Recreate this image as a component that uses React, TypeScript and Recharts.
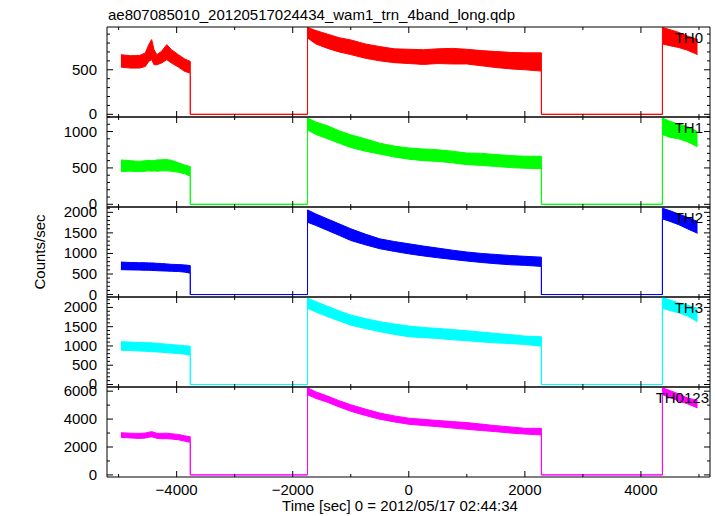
import { AreaChart, Area, XAxis, YAxis } from "recharts";

// time samples (sec) of the three data stretches; the gaps in between are drawn at zero
const segA = [-4960, -4800, -4640, -4540, -4480, -4430, -4390, -4340, -4260, -4170, -4090, -3970, -3860, -3765];
const segB = [-1745, -1600, -1400, -1200, -1000, -750, -500, -250, 0, 250, 500, 750, 1000, 1250, 1500, 1750, 2000, 2285];
const segC = [4370, 4500, 4650, 4800, 4975];

// lower / upper edge of the noisy band (segA, segB, segC in order)
const th0Lo = [530, 519, 519, 537, 594, 613, 557, 557, 576, 613, 576, 530, 481, 463, 857, 790, 740, 700, 670, 630, 600, 580, 570, 560, 570, 565, 565, 545, 525, 510, 500, 485, 790, 770, 750, 720, 670];
const th0Hi = [669, 658, 660, 689, 782, 839, 726, 669, 707, 782, 726, 669, 621, 594, 975, 940, 900, 860, 835, 790, 760, 735, 730, 725, 735, 740, 730, 715, 705, 695, 690, 690, 975, 950, 920, 880, 840];
const th1Lo = [450, 455, 450, 455, 460, 455, 460, 455, 460, 460, 455, 440, 420, 385, 1020, 960, 900, 840, 780, 730, 690, 650, 620, 600, 590, 570, 545, 535, 520, 505, 495, 490, 960, 920, 900, 860, 790];
const th1Hi = [610, 600, 590, 600, 605, 600, 600, 610, 612, 615, 605, 570, 540, 520, 1185, 1130, 1080, 1010, 955, 900, 840, 800, 775, 760, 750, 730, 705, 700, 685, 670, 660, 660, 1185, 1140, 1100, 1070, 1000];
const th2Lo = [605, 600, 595, 590, 590, 585, 585, 580, 575, 570, 565, 560, 545, 520, 1760, 1680, 1560, 1440, 1315, 1210, 1115, 1050, 990, 940, 895, 855, 815, 780, 750, 725, 710, 685, 1840, 1780, 1700, 1600, 1490];
const th2Hi = [790, 780, 775, 775, 770, 770, 765, 760, 755, 745, 735, 730, 720, 705, 2060, 1960, 1840, 1720, 1600, 1470, 1355, 1290, 1235, 1180, 1130, 1080, 1035, 1000, 975, 950, 930, 910, 2100, 2040, 1960, 1880, 1780];
const th3Lo = [890, 880, 870, 860, 855, 850, 850, 845, 835, 825, 815, 805, 785, 760, 1975, 1880, 1760, 1650, 1540, 1450, 1370, 1300, 1240, 1215, 1195, 1160, 1135, 1105, 1080, 1060, 1040, 995, 1975, 1920, 1860, 1775, 1630];
const th3Hi = [1110, 1100, 1090, 1085, 1085, 1080, 1075, 1070, 1060, 1045, 1035, 1020, 1005, 995, 2240, 2150, 2030, 1910, 1800, 1710, 1630, 1570, 1515, 1480, 1455, 1425, 1395, 1360, 1325, 1295, 1255, 1240, 2260, 2190, 2120, 2060, 1975];
const th0123Lo = [2690, 2650, 2615, 2640, 2700, 2730, 2680, 2620, 2590, 2600, 2570, 2520, 2420, 2340, 5750, 5480, 5200, 4870, 4560, 4260, 3990, 3800, 3630, 3540, 3460, 3360, 3270, 3180, 3100, 3000, 2930, 2860, 5750, 5550, 5300, 5100, 4800];
const th0123Hi = [3020, 2990, 2975, 3000, 3060, 3100, 3050, 2980, 2975, 2990, 2950, 2900, 2800, 2730, 6240, 5950, 5650, 5320, 5030, 4720, 4430, 4230, 4065, 3980, 3900, 3820, 3750, 3640, 3530, 3440, 3340, 3340, 6240, 6050, 5800, 5520, 5340];

const xTicks = [-5000, -4000, -3000, -2000, -1000, 0, 1000, 2000, 3000, 4000, 5000];
const th0Ticks = [0, 100, 200, 300, 400, 500, 600, 700, 800, 900];
const th1Ticks = [0, 100, 200, 300, 400, 500, 600, 700, 800, 900, 1000, 1100, 1200];
const th2Ticks = [0, 100, 200, 300, 400, 500, 600, 700, 800, 900, 1000, 1100, 1200, 1300, 1400, 1500, 1600, 1700, 1800, 1900, 2000, 2100];
const th3Ticks = [0, 100, 200, 300, 400, 500, 600, 700, 800, 900, 1000, 1100, 1200, 1300, 1400, 1500, 1600, 1700, 1800, 1900, 2000, 2100, 2200];
const th0123Ticks = [0, 1000, 2000, 3000, 4000, 5000, 6000];

const X_DOMAIN: [number, number] = [-5200, 5190];
const PANEL_H = 90;
const PAD = 12;

const fmt = (v: number) => (v < 0 ? "\u2212" + Math.abs(v) : String(v));

function buildRows(lo: number[], hi: number[]) {
  const rows: { t: number; band: [number, number] }[] = [];
  const segs = [segA, segB, segC];
  let k = 0;
  segs.forEach((seg, si) => {
    if (si > 0) rows.push({ t: seg[0], band: [0, 0] });
    seg.forEach((t) => {
      rows.push({ t, band: [lo[k], hi[k]] });
      k++;
    });
    if (si < segs.length - 1) rows.push({ t: seg[seg.length - 1], band: [0, 0] });
  });
  return rows;
}

const xTick = (side: "top" | "bottom", labels: boolean) => (p: any) => {
  const v = p.payload.value;
  const major = v % 2000 === 0;
  const len = major ? 6 : 3;
  const dir = side === "bottom" ? -1 : 1;
  return (
    <g>
      <line x1={p.x} x2={p.x} y1={p.y} y2={p.y + dir * len} stroke="#000" />
      {labels && major && (
        <text x={p.x} y={p.y + 18} textAnchor="middle" fontSize={15} fill="#000">
          {fmt(v)}
        </text>
      )}
    </g>
  );
};

const yTick = (side: "left" | "right", majorStep: number) => (p: any) => {
  const v = p.payload.value;
  const major = v % majorStep === 0;
  const len = major ? 6 : 3;
  const dir = side === "left" ? 1 : -1;
  return (
    <g>
      <line x1={p.x} x2={p.x + dir * len} y1={p.y} y2={p.y} stroke="#000" />
      {side === "left" && major && (
        <text x={p.x - 10} y={p.y + 5} textAnchor="end" fontSize={15} fill="#000">
          {fmt(v)}
        </text>
      )}
    </g>
  );
};

type PanelProps = {
  lo: number[];
  hi: number[];
  color: string;
  domain: [number, number];
  ticks: number[];
  majorStep: number;
  top: number;
  last?: boolean;
};

function Panel({ lo, hi, color, domain, ticks, majorStep, top, last }: PanelProps) {
  // axes need a size of at least 1px or recharts skips drawing them
  const bottom = last ? 30 : PAD;
  const rows = buildRows(lo, hi);
  return (
    <div style={{ position: "absolute", left: 0, top: top - PAD }}>
      <AreaChart width={717} height={PAD + PANEL_H + bottom} data={rows}
        margin={{ top: PAD - 1, right: 6, bottom: bottom - 1, left: 0 }}>
        <XAxis dataKey="t" type="number" domain={X_DOMAIN} ticks={xTicks} interval={0} height={1}
          tickSize={0} tickMargin={0} tickLine={false} axisLine={{ stroke: "#000" }}
          tick={xTick("bottom", !!last)} allowDataOverflow />
        <XAxis xAxisId="top" orientation="top" dataKey="t" type="number" domain={X_DOMAIN} ticks={xTicks}
          interval={0} height={1} tickSize={0} tickMargin={0} tickLine={false} axisLine={{ stroke: "#000" }}
          tick={xTick("top", false)} allowDataOverflow />
        <YAxis type="number" domain={domain} ticks={ticks} interval={0} width={107} tickSize={0} tickMargin={0}
          tickLine={false} axisLine={{ stroke: "#000" }} tick={yTick("left", majorStep)} allowDataOverflow />
        <YAxis yAxisId="r" orientation="right" type="number" domain={domain} ticks={ticks} interval={0} width={1}
          tickSize={0} tickMargin={0} tickLine={false} axisLine={{ stroke: "#000" }}
          tick={yTick("right", majorStep)} allowDataOverflow />
        <Area dataKey="band" type="linear" stroke={color} strokeWidth={1} fill={color} fillOpacity={1}
          dot={false} activeDot={false} isAnimationActive={false} />
      </AreaChart>
    </div>
  );
}

const panelTops = [27, 117, 207, 297, 387];
const panelNames = ["TH0", "TH1", "TH2", "TH3", "TH0123"];

export default function App() {
  return (
    <div style={{ position: "absolute", left: 0, top: 0, width: 717, height: 516, background: "#fff",
      fontFamily: "'Liberation Sans', Arial, sans-serif" }}>
      <Panel lo={th0Lo} hi={th0Hi} color="#ff0000" domain={[-30, 980]} ticks={th0Ticks} majorStep={500} top={panelTops[0]} />
      <Panel lo={th1Lo} hi={th1Hi} color="#00ff00" domain={[-37, 1200]} ticks={th1Ticks} majorStep={500} top={panelTops[1]} />
      <Panel lo={th2Lo} hi={th2Hi} color="#0000ff" domain={[-60, 2130]} ticks={th2Ticks} majorStep={500} top={panelTops[2]} />
      <Panel lo={th3Lo} hi={th3Hi} color="#00ffff" domain={[-65, 2270]} ticks={th3Ticks} majorStep={500} top={panelTops[3]} />
      <Panel lo={th0123Lo} hi={th0123Hi} color="#ff00ff" domain={[-150, 6300]} ticks={th0123Ticks} majorStep={2000} top={panelTops[4]} last />
      <svg width={717} height={516} style={{ position: "absolute", left: 0, top: 0, pointerEvents: "none" }}>
        <text x={108} y={20} fontSize={15} fill="#000">ae807085010_20120517024434_wam1_trn_4band_long.qdp</text>
        {panelNames.map((n, i) => (
          <text key={n} x={i === 4 ? 709 : 703} y={panelTops[i] + 16} textAnchor="end" fontSize={15} fill="#000">{n}</text>
        ))}
        <text x={45} y={252} transform="rotate(-90 45 252)" textAnchor="middle" fontSize={15} fill="#000">Counts/sec</text>
        <text x={400} y={511} textAnchor="middle" fontSize={15} fill="#000">Time [sec] 0 = 2012/05/17 02:44:34</text>
      </svg>
    </div>
  );
}
